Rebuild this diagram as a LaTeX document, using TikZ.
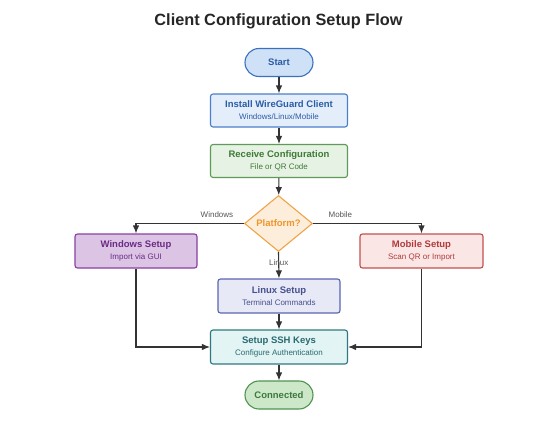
\documentclass[tikz,border=0pt]{standalone}
\usepackage{fontspec}
\setmainfont{Liberation Sans}
\usetikzlibrary{shapes.geometric}
\usetikzlibrary{arrows.meta}

\definecolor{startfill}{HTML}{CFE1F6}
\definecolor{startline}{HTML}{3A70BE}
\definecolor{starttext}{HTML}{2A5CA6}
\definecolor{instfill}{HTML}{E4EEFB}
\definecolor{instline}{HTML}{4A7FCB}
\definecolor{recvfill}{HTML}{E6F2E3}
\definecolor{recvline}{HTML}{5F9B58}
\definecolor{recvtext}{HTML}{3E7A36}
\definecolor{platfill}{HTML}{FDEEDC}
\definecolor{platline}{HTML}{EFA447}
\definecolor{plattext}{HTML}{EE952C}
\definecolor{winfill}{HTML}{DCC4E4}
\definecolor{winline}{HTML}{8A3FA2}
\definecolor{wintext}{HTML}{6B2A86}
\definecolor{mobfill}{HTML}{FBE6E6}
\definecolor{mobline}{HTML}{C0504D}
\definecolor{mobtext}{HTML}{B03A3A}
\definecolor{linfill}{HTML}{E8E9F6}
\definecolor{linline}{HTML}{5A64B0}
\definecolor{lintext}{HTML}{46508F}
\definecolor{sshfill}{HTML}{E2F4F4}
\definecolor{sshline}{HTML}{2F7A80}
\definecolor{sshtext}{HTML}{2A6A70}
\definecolor{connfill}{HTML}{CDE8C9}
\definecolor{connline}{HTML}{4F9450}
\definecolor{conntext}{HTML}{3A7A3A}
\definecolor{arrowgray}{HTML}{333333}
\definecolor{labelgray}{HTML}{555555}

\tikzset{
  box/.style={draw, rounded corners=2.5pt, line width=1.1pt, minimum width=137pt,
    minimum height=33pt, align=center, font=\fontsize{8}{12}\selectfont},
  term/.style={draw, rounded corners=14pt, line width=1.1pt, minimum width=68pt,
    minimum height=28pt, font=\fontsize{9.5}{11}\selectfont\bfseries},
  flow/.style={-{Latex[length=8pt, width=6.5pt]}, line width=1.1pt, draw=arrowgray},
  lbl/.style={text=labelgray, font=\fontsize{8}{10}\selectfont},
}
\newcommand{\boxtitle}[1]{{\fontsize{9.5}{12}\selectfont\bfseries #1}}

\begin{document}
\begin{tikzpicture}[x=1pt, y=-1pt]
	\useasboundingbox (0,0) rectangle (550,447);
	\node[text=black!85] (title) at (278.5,21) {\fontsize{16.3}{18}\selectfont\bfseries Client Configuration Setup Flow};
	% main column
	\node[term, fill=startfill, draw=startline, text=starttext] (start) at (279,62.5) {Start};
	\node[box, fill=instfill, draw=instline, text=starttext] (install) at (279,110.5)
		{\boxtitle{Install WireGuard Client}\\Windows/Linux/Mobile};
	\node[box, fill=recvfill, draw=recvline, text=recvtext] (receive) at (279,161)
		{\boxtitle{Receive Configuration}\\File or QR Code};
	\node[diamond, draw=platline, fill=platfill, text=plattext, line width=1.1pt, aspect=1.2,
		inner sep=0pt, minimum width=68pt, minimum height=56pt,
		font=\fontsize{9.5}{11}\selectfont\bfseries] (platform) at (278.5,223.5) {Platform?};
	% platforms
	\node[box, minimum width=122pt, minimum height=34pt, fill=winfill, draw=winline, text=wintext]
		(windows) at (136,251) {\boxtitle{Windows Setup}\\Import via GUI};
	\node[box, minimum width=123pt, minimum height=34pt, fill=mobfill, draw=mobline, text=mobtext]
		(mobile) at (421.5,251) {\boxtitle{Mobile Setup}\\Scan QR or Import};
	\node[box, minimum width=122pt, minimum height=34pt, fill=linfill, draw=linline, text=lintext]
		(linux) at (279,296) {\boxtitle{Linux Setup}\\Terminal Commands};
	% final steps
	\node[box, minimum height=34pt, fill=sshfill, draw=sshline, text=sshtext] (ssh) at (279,347)
		{\boxtitle{Setup SSH Keys}\\Configure Authentication};
	\node[term, fill=connfill, draw=connline, text=conntext] (connected) at (279,395) {Connected};

	\draw[flow] (start) -- (install);
	\draw[flow] (install) -- (receive);
	\draw[flow] (receive) -- (platform);
	\draw[flow] (platform.west) -| node[lbl, above=2pt, pos=0.125] {Windows} (windows.north);
	\draw[flow] (platform.east) -| node[lbl, above=2pt, pos=0.126] {Mobile} (mobile.north);
	\draw[flow] (platform.south) -- node[lbl, pos=0.42] {Linux} (linux.north);
	\draw[flow] (linux) -- (ssh);
	\draw[flow] (windows.south) |- (ssh.west);
	\draw[flow] (mobile.south) |- (ssh.east);
	\draw[flow] (ssh) -- (connected);
\end{tikzpicture}
\end{document}
